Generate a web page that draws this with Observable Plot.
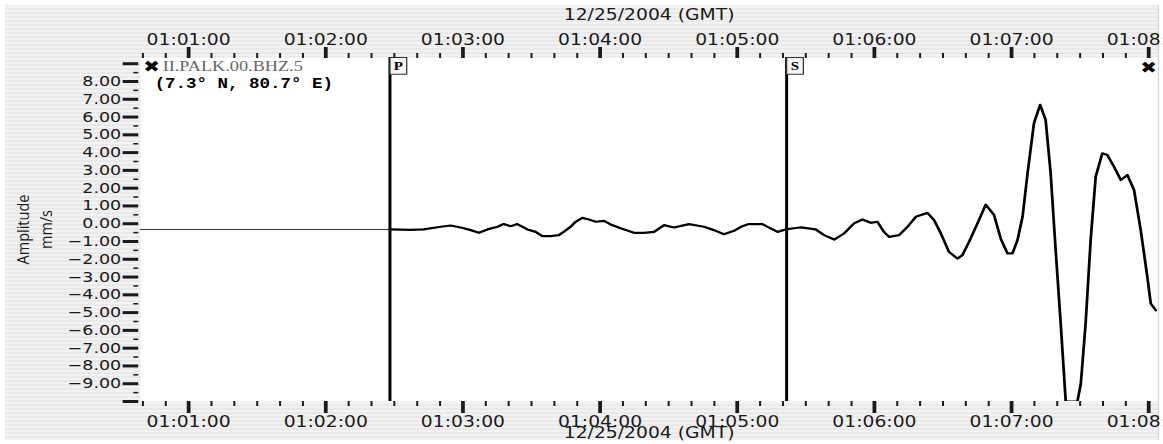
<!DOCTYPE html>
<html><head><meta charset="utf-8">
<script src="https://cdn.jsdelivr.net/npm/d3@7"></script>
<script src="https://cdn.jsdelivr.net/npm/@observablehq/plot@0.6"></script>
<style>
body{margin:0;background:#fff;}
#chart svg{display:block;}
</style>
</head><body><div id="chart"></div>
<script>
// ---------- data ----------
const recordStart = "2004-12-25T01:00:00Z";           // seconds below are counted from here (GMT)
const viewStartSec = 39.0;
const viewEndSec = 483.9;

// seismogram II.PALK.00.BHZ.5, seconds after 01:00:00 and amplitude (mm/s)
const traceSec = [39.0, 148.07, 157.1, 162.8, 170.3, 174.6, 179.0, 183.4, 187.0, 190.7, 195.1, 197.8, 200.9, 203.8, 208.2, 211.8, 214.7, 218.4, 221.9, 224.1, 227.1, 229.3, 232.2, 235.1, 238.1, 241.7, 244.6, 249.0, 254.8, 259.2, 263.6, 268.0, 272.3, 278.9, 285.4, 289.8, 294.2, 298.6, 302.2, 305.1, 311.0, 314.6, 317.6, 321.2, 325.6, 327.8, 334.3, 338.0, 342.4, 346.7, 351.1, 354.8, 358.4, 361.3, 364.2, 366.4, 370.8, 374.5, 378.1, 383.2, 386.1, 389.1, 392.6, 396.3, 398.5, 401.4, 405.1, 408.7, 412.3, 415.3, 418.2, 420.4, 422.6, 424.8, 427.0, 429.8, 432.5, 434.9, 437.1, 439.3, 441.5, 443.7, 448.8, 450.3, 452.4, 454.6, 456.8, 459.7, 461.9, 464.8, 467.8, 470.7, 473.6, 476.5, 479.4, 480.9, 483.1];
const traceAmp = [-0.32, -0.32, -0.35, -0.32, -0.17, -0.10, -0.21, -0.36, -0.51, -0.32, -0.17, -0.02, -0.14, -0.02, -0.32, -0.46, -0.70, -0.70, -0.64, -0.46, -0.17, 0.11, 0.33, 0.24, 0.11, 0.16, -0.04, -0.26, -0.51, -0.51, -0.46, -0.08, -0.21, -0.02, -0.17, -0.36, -0.59, -0.40, -0.14, -0.02, -0.02, -0.26, -0.46, -0.32, -0.24, -0.21, -0.32, -0.64, -0.89, -0.55, 0.02, 0.24, 0.05, 0.11, -0.46, -0.74, -0.64, -0.17, 0.39, 0.61, 0.20, -0.55, -1.58, -1.96, -1.77, -1.02, 0.02, 1.07, 0.50, -0.85, -1.67, -1.67, -0.92, 0.39, 2.84, 5.65, 6.69, 5.84, 2.84, -1.49, -5.62, -10.0, -10.0, -9.00, -5.62, -0.92, 2.64, 3.96, 3.87, 3.21, 2.46, 2.74, 1.89, -0.36, -2.99, -4.49, -4.87];

// phase picks
const pickPhases = ["P", "S"];
const pickSec = [148.07, 321.6];

// labels
const stationName = "II.PALK.00.BHZ.5";
const stationCoords = "(7.3° N, 80.7° E)";
const dateTitle = "12/25/2004 (GMT)";
const yTitle = "Amplitude\nmm/s";

// ticks
const xMajorLabels = ["01:01:00", "01:02:00", "01:03:00", "01:04:00", "01:05:00", "01:06:00", "01:07:00", "01:08:00"];
const xMinorSec = [40, 50, 70, 80, 90, 100, 110, 130, 140, 150, 160, 170, 190, 200, 210, 220, 230, 250, 260, 270, 280, 290, 310, 320, 330, 340, 350, 370, 380, 390, 400, 410, 430, 440, 450, 460, 470];
const yMajorTicks = [-10, -9, -8, -7, -6, -5, -4, -3, -2, -1, 0, 1, 2, 3, 4, 5, 6, 7, 8, 9];
const yLabeledTicks = [-9, -8, -7, -6, -5, -4, -3, -2, -1, 0, 1, 2, 3, 4, 5, 6, 7, 8];
const yMinorTicks = [-9.5, -8.5, -7.5, -6.5, -5.5, -4.5, -3.5, -2.5, -1.5, -0.5, 0.5, 1.5, 2.5, 3.5, 4.5, 5.5, 6.5, 7.5, 8.5];
const yDomain = [-10, 9.35];

// ---------- build ----------
const t0 = new Date(recordStart).getTime();
const at = s => new Date(t0 + s * 1000);
const trace = traceSec.map((s, i) => ({time: at(s), amp: traceAmp[i], sec: s}));
const picks = pickPhases.map((p, i) => ({phase: p, time: at(pickSec[i])}));
const pSec = pickSec[0];
const xMajor = xMajorLabels.map(l => new Date("2004-12-25T" + l + "Z"));
const xMinor = xMinorSec.map(at);
const fmtTime = d3.utcFormat("%H:%M:%S");
const fmtAmp = d3.format(".2f");

const K = 1.25;               // horizontal stretch of the picture
const W = 1163 / K;

const boxSymbol = {draw(ctx) { ctx.moveTo(0, 0); ctx.lineTo(13.4, 0); ctx.lineTo(13.4, 16.7); ctx.lineTo(0, 16.7); ctx.closePath(); }};
const ink = "#1a1a1a";

const plot = Plot.plot({
  width: W, height: 444,
  marginLeft: 112, marginRight: 4.8, marginTop: 57, marginBottom: 43,
  x: {type: "utc", domain: [at(viewStartSec), at(viewEndSec)]},
  y: {domain: yDomain},
  style: {fontFamily: "DejaVu Sans", color: ink, background: "white", overflow: "hidden"},
  marks: [
    Plot.frame({fill: "white", stroke: null}),
    // top axis
    Plot.axisX(xMinor, {anchor: "top", tickSize: 5, strokeWidth: 1.6, tickFormat: () => "", label: null}),
    Plot.axisX(xMajor, {anchor: "top", tickSize: 11, strokeWidth: 3, tickPadding: 2, tickFormat: fmtTime, fontSize: 15, label: null}),
    // bottom axis
    Plot.axisX(xMinor, {anchor: "bottom", tickSize: 5, strokeWidth: 1.6, tickFormat: () => "", label: null}),
    Plot.axisX(xMajor, {anchor: "bottom", tickSize: 12, strokeWidth: 3, tickPadding: 3, tickFormat: fmtTime, fontSize: 15, label: null}),
    // y axis
    Plot.axisY(yMinorTicks, {anchor: "left", tickSize: 4, strokeWidth: 1.5, dx: -1.4, tickFormat: () => "", label: null}),
    Plot.axisY(yMajorTicks, {anchor: "left", tickSize: 12.5, strokeWidth: 3, dx: -1.4, tickPadding: 1.6, fontSize: 14,
      tickFormat: d => yLabeledTicks.includes(d) ? fmtAmp(d) : "", label: null}),
    // titles
    Plot.text([dateTitle], {frameAnchor: "top", dy: -42, lineAnchor: "middle", fontSize: 15, fill: ink}),
    Plot.text([dateTitle], {frameAnchor: "bottom", dy: 32, lineAnchor: "middle", fontSize: 15, fill: ink}),
    Plot.text([yTitle], {frameAnchor: "left", rotate: -90, dx: -85.7, textAnchor: "middle", lineAnchor: "middle",
      fontFamily: "Open Sans", fontSize: 14.5, lineHeight: 1.37, fill: ink}),
    // trace
    Plot.line(trace.filter(d => d.sec <= pSec), {x: "time", y: "amp", stroke: "#333", strokeWidth: 1, clip: true}),
    Plot.line(trace.filter(d => d.sec >= pSec), {x: "time", y: "amp", stroke: "black", strokeWidth: 2.2, strokeLinejoin: "round", clip: true}),
    // phase picks
    Plot.ruleX(picks, {x: "time", stroke: "black", strokeWidth: 2.4}),
    Plot.dot(picks, {x: "time", frameAnchor: "top", symbol: boxSymbol, fill: "#f6f6f6", stroke: "#333", strokeWidth: 1}),
    Plot.text(picks, {x: "time", frameAnchor: "top", text: "phase", dx: 6.7, dy: 8.6, lineAnchor: "middle",
      fontFamily: "Liberation Serif", fontWeight: "bold", fontSize: 12, fill: "black"}),
    // station labels
    Plot.text(["✖"], {frameAnchor: "top-left", dx: 8.8, dy: 9, textAnchor: "middle", lineAnchor: "middle", fontSize: 16, fill: "black"}),
    Plot.text(["✖"], {frameAnchor: "top-right", dx: -7.2, dy: 10, textAnchor: "middle", lineAnchor: "middle", fontSize: 16, fill: "black"}),
    Plot.text([stationName], {frameAnchor: "top-left", dx: 17.6, dy: 9, textAnchor: "start", lineAnchor: "middle",
      fontFamily: "Liberation Serif", fontSize: 14.6, fill: "#666"}),
    Plot.text([stationCoords], {frameAnchor: "top-left", dx: 11.2, dy: 26, textAnchor: "start", lineAnchor: "middle",
      fontFamily: "Liberation Mono", fontWeight: "bold", fontSize: 14, fill: "black"})
  ]
});

// stretch horizontally like the original picture
plot.setAttribute("width", 1163);
plot.setAttribute("height", 444);
plot.setAttribute("preserveAspectRatio", "none");
plot.style.width = "1163px";
plot.style.height = "444px";
plot.style.maxWidth = "none";

// striped gray panel behind everything
const svg = d3.select(plot);
const defs = svg.insert("defs", ":first-child");
const pat = defs.append("pattern").attr("id", "stripes").attr("patternUnits", "userSpaceOnUse")
  .attr("width", 8).attr("height", 4);
pat.append("rect").attr("width", 8).attr("height", 2).attr("fill", "#e9e9e9");
pat.append("rect").attr("y", 2).attr("width", 8).attr("height", 2).attr("fill", "#f2f2f2");
svg.insert("rect", "defs + *").attr("x", 4).attr("y", 5).attr("width", 922.4).attr("height", 435).attr("fill", "url(#stripes)");
svg.insert("line", "defs + *").attr("x1", 926.4).attr("x2", 926.4).attr("y1", 5).attr("y2", 440).attr("stroke", "#bbb").attr("stroke-width", 1);

// rotated axis title: partly undo the stretch on its glyphs
svg.selectAll("text").each(function() {
  const tr = this.getAttribute("transform");
  if (tr && tr.includes("rotate(-90)")) this.setAttribute("transform", tr + " scale(1,0.9)");
});

document.getElementById("chart").appendChild(plot);
</script></body></html>
